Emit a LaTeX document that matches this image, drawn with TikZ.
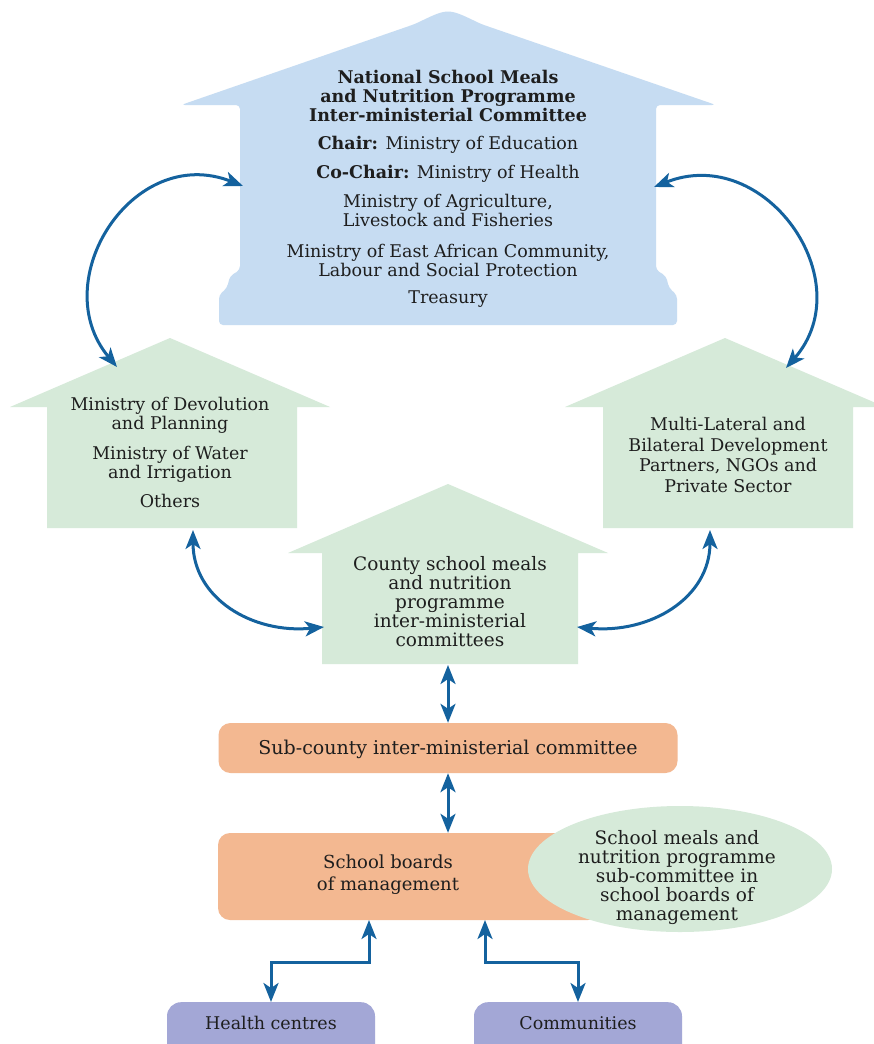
\documentclass[tikz,border=0pt]{standalone}
\usepackage{fontspec}
\setmainfont{DejaVu Serif}
\usetikzlibrary{arrows.meta,shapes.geometric,calc}

\definecolor{nationalblue}{RGB}{198,220,242}
\definecolor{partnergreen}{RGB}{214,234,217}
\definecolor{boardorange}{RGB}{243,184,145}
\definecolor{localpurple}{RGB}{163,167,214}
\definecolor{linkblue}{RGB}{20,98,158}
\definecolor{ink}{RGB}{30,30,30}

\tikzset{
  link/.style={linkblue, line width=3pt,
    {Stealth[length=19pt,width=15pt,inset=5pt]}-{Stealth[length=19pt,width=15pt,inset=5pt]}},
  label text/.style={align=center, text=ink, inner sep=0pt,
    font=\fontsize{17.5}{19}\selectfont},
  orange box/.style={fill=boardorange, rounded corners=12pt, inner sep=0pt},
  purple box/.style={fill=localpurple, rounded corners=14pt, inner sep=0pt,
    minimum width=208pt, minimum height=70pt, anchor=north},
}

\begin{document}
\begin{tikzpicture}[x=1pt,y=-1pt]
\useasboundingbox (0,0) rectangle (873,1044);
\fill[white] (0,0) rectangle (873,1044);

% national committee house
\fill[nationalblue, rounded corners=4pt]
  (181,105) -- (415,24) .. controls (448,8) .. (481,24) -- (716,105)
  -- (656,105) -- (656,270) -- (666,276) -- (669,288) -- (677,295)
  -- (677,325) -- (219,325) -- (219,295) -- (227,288) -- (230,276)
  -- (240,270) -- (240,105) -- cycle;

% partner houses
\fill[partnergreen] (10,407) -- (170,338) -- (330,407) -- (297,407)
  -- (297,528) -- (47,528) -- (47,407) -- cycle;
\fill[partnergreen] (565,407) -- (725,338) -- (885,407) -- (853,407)
  -- (853,528) -- (603,528) -- (603,407) -- cycle;

% county house
\fill[partnergreen] (288,553) -- (448,484) -- (608,553) -- (578,553)
  -- (578,664) -- (322,664) -- (322,553) -- cycle;

% texts in the houses
\node[label text, anchor=north] (natl) at (448,70) {%
  \textbf{National School Meals}\\
  \textbf{and Nutrition Programme}\\
  \textbf{Inter-ministerial Committee}\\[9pt]
  \textbf{Chair:} Ministry of Education\\[10pt]
  \textbf{Co-Chair:} Ministry of Health\\[10pt]
  Ministry of Agriculture,\\
  Livestock and Fisheries\\[12pt]
  Ministry of East African Community,\\
  Labour and Social Protection\\[8pt]
  Treasury};

\node[label text, anchor=north] (dev) at (170,397) {%
  Ministry of Devolution\\
  and Planning\\[11pt]
  Ministry of Water\\
  and Irrigation\\[10pt]
  Others};

\node[label text, anchor=north, font=\fontsize{17.5}{20.5}\selectfont]
  (partners) at (728,417) {%
  Multi-Lateral and\\
  Bilateral Development\\
  Partners, NGOs and\\
  Private Sector};

\node[label text, anchor=north, font=\fontsize{18.5}{19}\selectfont]
  (county) at (450,556) {%
  County school meals\\
  and nutrition\\
  programme\\
  inter-ministerial\\
  committees};

% sub-county and school level
\node[orange box, minimum width=459pt, minimum height=50pt]
  (subcounty) at (448,748) {};
\node[label text, font=\fontsize{19}{20}\selectfont] (subcountytxt)
  at (448,749) {Sub-county inter-ministerial committee};

\node[orange box, minimum width=382pt, minimum height=87pt]
  (boards) at (409,876.5) {};
\node[label text, anchor=north, font=\fontsize{18}{22}\selectfont]
  (boardstxt) at (388,855) {School boards\\of management};

\node[ellipse, fill=partnergreen, inner sep=0pt,
  minimum width=304pt, minimum height=126pt] (smc) at (680,869) {};
\node[label text, anchor=north, font=\fontsize{18.5}{19}\selectfont]
  (smctxt) at (677,830) {%
  School meals and\\
  nutrition programme\\
  sub-committee in\\
  school boards of\\
  management};

% local partners
\node[purple box] (healthbox) at (271,1002) {};
\node[label text] (health) at (271,1023) {Health centres};
\node[purple box] (commbox) at (578,1002) {};
\node[label text] (comm) at (578,1023) {Communities};

% connector ends on the house outlines
\coordinate (natlW) at (243,186);
\coordinate (natlE) at (654,187);
\coordinate (devTop) at (117,367);
\coordinate (partTop) at (786,368);
\coordinate (devFoot) at (193,530);
\coordinate (partFoot) at (710,530);
\coordinate (countyW) at (324,627);
\coordinate (countyE) at (577,627);
\coordinate (countyFoot) at (448,665);
\coordinate (boardsL) at (369,920);
\coordinate (boardsR) at (485,920);

% links
\draw[link] (devTop) .. controls (45,281) and (133,143) .. (natlW);
\draw[link] (partTop) .. controls (862,281) and (765,143) .. (natlE);
\draw[link] (devFoot) .. controls (193,598) and (252,634) .. (countyW);
\draw[link] (partFoot) .. controls (710,598) and (650,634) .. (countyE);
\draw[link] (countyFoot) -- (subcounty.north);
\draw[link] (subcounty.south) -- (subcounty.south |- boards.north);
\draw[link] (boardsL) -- ++(0,42) -| (healthbox.north);
\draw[link] (boardsR) -- ++(0,42) -| (commbox.north);
\end{tikzpicture}
\end{document}
